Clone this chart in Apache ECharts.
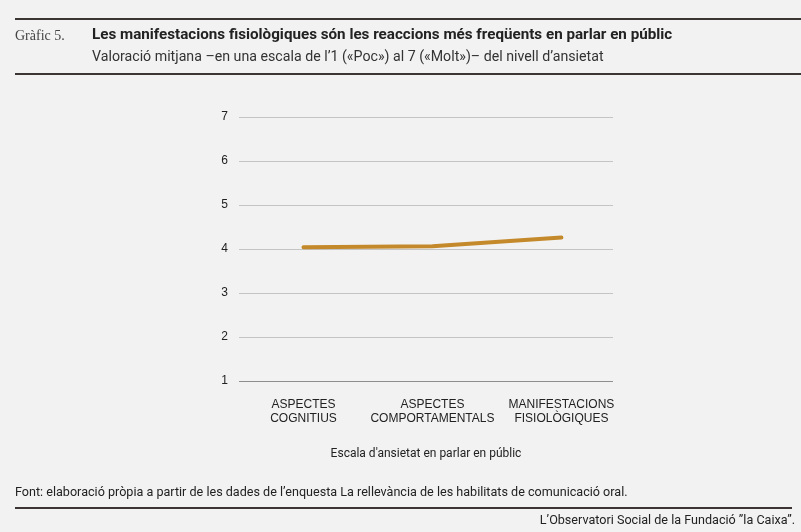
<!DOCTYPE html>
<html>
<head>
<meta charset="utf-8">
<script src="https://cdn.jsdelivr.net/npm/echarts@6/dist/echarts.min.js"></script>
<style>
  html, body { margin: 0; padding: 0; background: #f2f2f2; }
  #chart { width: 801px; height: 532px; }
</style>
</head>
<body>
<div id="chart"></div>
<script>
// categories and mean values (scale 1-7)
var categories = ['ASPECTES\nCOGNITIUS', 'ASPECTES\nCOMPORTAMENTALS', 'MANIFESTACIONS\nFISIOLÒGIQUES'];
var values = [4.04, 4.06, 4.26];
var yTicks = [1, 2, 3, 4, 5, 6, 7];

var chart = echarts.init(document.getElementById('chart'));

var ruleColor = '#3b3634';
var textFont = 'Roboto, "Liberation Sans", sans-serif';

chart.setOption({
    backgroundColor: '#f2f2f2',
    animation: false,
    grid: {
        left: 239, right: 188, top: 117, height: 264
    },
    xAxis: {
        type: 'value',
        min: -0.5,
        max: 2.4,
        splitLine: { show: false },
        axisTick: { show: false },
        axisLine: { show: false },
        axisLabel: {
            customValues: categories.map(function(c, i){ return i; }),
            formatter: function(v){ return categories[v] || ''; },
            color: '#222',
            fontFamily: 'Arial, "Liberation Sans", sans-serif',
            fontSize: 12,
            lineHeight: 14,
            margin: 17
        },
        name: "Escala d'ansietat en parlar en públic",
        nameLocation: 'middle',
        nameGap: 67,
        nameTextStyle: { color: '#222', fontFamily: textFont, fontSize: 12 }
    },
    yAxis: {
        type: 'value',
        min: yTicks[0],
        max: yTicks[yTicks.length - 1],
        interval: 1,
        axisLine: { show: false },
        axisTick: { show: false },
        axisLabel: { color: '#222', fontFamily: 'Arial, "Liberation Sans", sans-serif', fontSize: 12, margin: 11 },
        splitLine: {
            lineStyle: {
                color: ['#8f8f8f', '#c4c4c4', '#c4c4c4', '#c4c4c4', '#c4c4c4', '#c4c4c4', '#c4c4c4'],
                width: 1
            }
        }
    },
    series: [{
        type: 'line',
        data: values.map(function(v, i){ return [i, v]; }),
        symbol: 'none',
        lineStyle: { color: '#c4892a', width: 4, cap: 'round' }
    }],
    graphic: [
        { type: 'rect', shape: { x: 15, y: 18, width: 786, height: 2 }, style: { fill: ruleColor } },
        { type: 'rect', shape: { x: 15, y: 73, width: 786, height: 2 }, style: { fill: ruleColor } },
        { type: 'rect', shape: { x: 15, y: 507, width: 777, height: 2 }, style: { fill: ruleColor } },
        {
            type: 'text', left: 15, top: 29,
            style: { text: 'Gràfic 5.', fill: '#444', font: '14px "Liberation Serif", "DejaVu Serif", serif' }
        },
        {
            type: 'text', left: 92, top: 28,
            style: {
                text: 'Les manifestacions fisiològiques són les reaccions més freqüents en parlar en públic',
                fill: '#222', font: 'bold 15.2px ' + textFont
            }
        },
        {
            type: 'text', left: 92, top: 50,
            style: {
                text: 'Valoració mitjana \u2013en una escala de l\u20191 («Poc») al 7 («Molt»)\u2013 del nivell d\u2019ansietat',
                fill: '#333', font: '14.2px ' + textFont
            }
        },
        {
            type: 'text', left: 15, top: 486,
            style: {
                text: 'Font: elaboració pròpia a partir de les dades de l\u2019enquesta La rellevància de les habilitats de comunicació oral.',
                fill: '#222', font: '12.6px ' + textFont
            }
        },
        {
            type: 'text', right: 6, top: 514,
            style: {
                text: 'L\u2019Observatori Social de la Fundació \u201dla Caixa\u201d.',
                fill: '#222', font: '12.6px ' + textFont
            }
        }
    ]
});
</script>
</body>
</html>
